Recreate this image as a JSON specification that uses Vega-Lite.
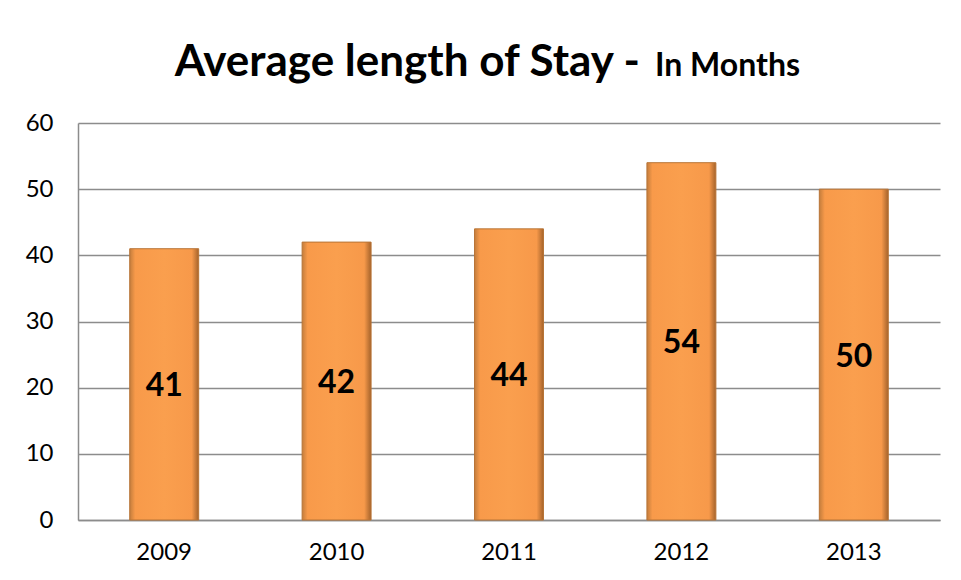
{
  "$schema": "https://vega.github.io/schema/vega-lite/v6.json",
  "width": 862,
  "height": 397,
  "padding": {"left": 25, "top": 41, "right": 21, "bottom": 10},
  "background": "white",
  "title": {
    "text": "Average length of Stay -\u2800\u2800\u2800\u2800\u2800",
    "subtitle": "In Months",
    "anchor": "end",
    "dx": -140,
    "font": "Lato",
    "fontSize": 44,
    "fontWeight": "bold",
    "color": "black",
    "subtitleFont": "Lato",
    "subtitleFontSize": 32,
    "subtitleFontWeight": "bold",
    "subtitleColor": "black",
    "subtitlePadding": -34,
    "offset": 26
  },
  "data": {
    "values": [
      {"year": "2009", "value": 41},
      {"year": "2010", "value": 42},
      {"year": "2011", "value": 44},
      {"year": "2012", "value": 54},
      {"year": "2013", "value": 50}
    ]
  },
  "encoding": {
    "x": {
      "field": "year",
      "type": "nominal",
      "scale": {"paddingInner": 0.6, "paddingOuter": 0.3},
      "axis": {
        "title": null,
        "labelAngle": 0,
        "labelFont": "Lato",
        "labelFontSize": 24,
        "labelColor": "black",
        "labelPadding": 20,
        "ticks": false,
        "domainColor": "#8c8c8c",
        "domainWidth": 1.5
      }
    }
  },
  "layer": [
    {
      "mark": {
        "type": "bar",
        "fill": {
          "gradient": "linear",
          "x1": 0, "x2": 1, "y1": 0, "y2": 0,
          "stops": [
            {"offset": 0, "color": "#c47d3c"},
            {"offset": 0.08, "color": "#f89a4a"},
            {"offset": 0.5, "color": "#fa9f4e"},
            {"offset": 0.9, "color": "#f7994a"},
            {"offset": 1, "color": "#a5632b"}
          ]
        },
        "stroke": "#b87436",
        "strokeWidth": 1
      },
      "encoding": {
        "y": {
          "field": "value",
          "type": "quantitative",
          "scale": {"domain": [0, 60]},
          "axis": {
            "title": null,
            "values": [0, 10, 20, 30, 40, 50, 60],
            "labelFont": "Lato",
            "labelFontSize": 24,
            "labelColor": "black",
            "labelPadding": 25,
            "ticks": false,
            "gridColor": "#8c8c8c",
            "gridWidth": 1.3,
            "domainColor": "#8c8c8c",
            "domainWidth": 1.5
          }
        }
      }
    },
    {
      "mark": {
        "type": "text",
        "font": "Lato",
        "fontSize": 32,
        "fontWeight": "bold",
        "color": "black",
        "baseline": "middle",
        "dy": 2
      },
      "encoding": {
        "y": {
          "field": "value",
          "type": "quantitative",
          "scale": {"domain": [0, 120]},
          "axis": null
        },
        "text": {"field": "value", "type": "quantitative"}
      }
    }
  ],
  "resolve": {"scale": {"y": "independent"}},
  "config": {"view": {"stroke": null}}
}
